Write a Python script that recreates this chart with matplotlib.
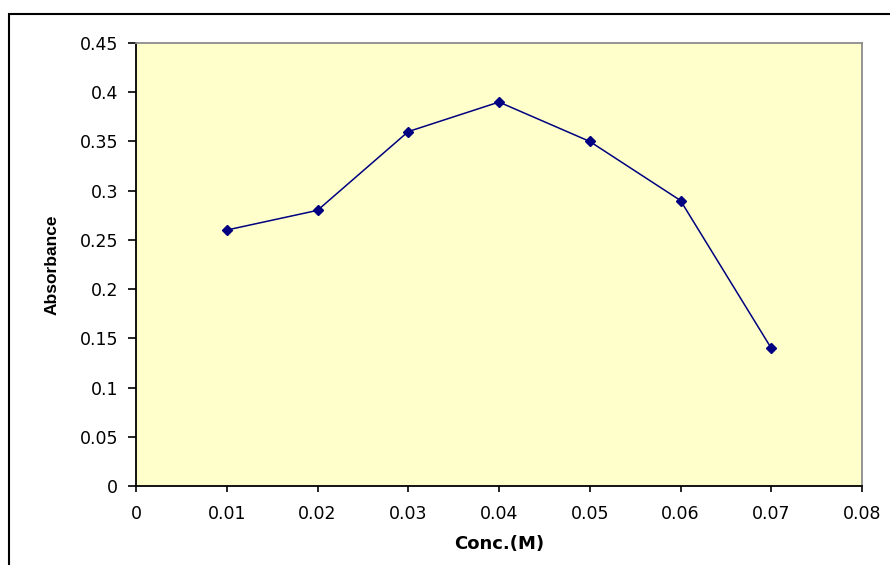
import matplotlib.pyplot as plt
from matplotlib.patches import Rectangle

conc = [0.01, 0.02, 0.03, 0.04, 0.05, 0.06, 0.07]
absorbance = [0.26, 0.28, 0.36, 0.39, 0.35, 0.29, 0.14]
xticks = [0, 0.01, 0.02, 0.03, 0.04, 0.05, 0.06, 0.07, 0.08]
xlabels = ['0', '0.01', '0.02', '0.03', '0.04', '0.05', '0.06', '0.07', '0.08']
yticks = [0, 0.05, 0.1, 0.15, 0.2, 0.25, 0.3, 0.35, 0.4, 0.45]
ylabels = ['0', '0.05', '0.1', '0.15', '0.2', '0.25', '0.3', '0.35', '0.4', '0.45']

plt.rcParams['font.family'] = ['DejaVu Sans']

fig = plt.figure(figsize=(8.9, 5.65), dpi=100)
ax = fig.add_axes([136/890, 1-486/565, (862-136)/890, (486-43)/565])
ax.set_facecolor('#FFFFCC')

# outer chart frame
fig.patches.append(Rectangle((9/890, -0.1), 1.2, 1-14/565+0.1, transform=fig.transFigure,
                             fill=False, edgecolor='black', linewidth=1.5))

ax.plot(conc, absorbance, color='#000080', marker='D', markersize=5.5, linewidth=1.1)

ax.set_xlim(0, 0.08)
ax.set_ylim(0, 0.45)
ax.set_xticks(xticks)
ax.set_xticklabels(xlabels)
ax.set_yticks(yticks)
ax.set_yticklabels(ylabels)
ax.tick_params(axis='x', direction='out', length=4.5, width=1.2, labelsize=12.5, pad=9)
ax.tick_params(axis='y', direction='out', length=6, width=1.2, labelsize=12.5, pad=7)

for s in ['left', 'bottom']:
    ax.spines[s].set_color('black')
    ax.spines[s].set_linewidth(1.3)
for s in ['top', 'right']:
    ax.spines[s].set_color('#8c8c8c')
    ax.spines[s].set_linewidth(1.3)

ax.set_xlabel('Conc.(M)', fontsize=13, fontweight='bold')
ax.set_ylabel('Absorbance', fontsize=12.5, fontweight='bold', family='Liberation Sans')
ax.xaxis.set_label_coords(0.5, -0.11)
ax.yaxis.set_label_coords(-0.105, 0.5)

fig.savefig('out.png', dpi=100)
